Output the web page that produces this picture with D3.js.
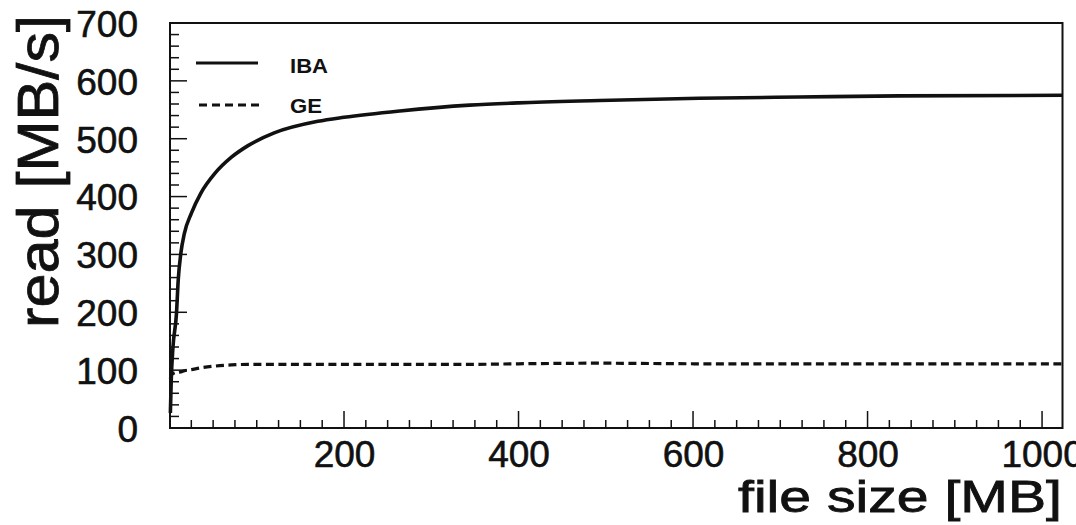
<!DOCTYPE html>
<html>
<head>
<meta charset="utf-8">
<script src="https://cdn.jsdelivr.net/npm/d3@7"></script>
<style>
  html, body { margin: 0; padding: 0; background: #fff; }
  svg { display: block; }
  text { font-family: "Liberation Sans", Arial, sans-serif; fill: #111; }
</style>
</head>
<body>
<svg id="chart" width="1076" height="525"></svg>
<script>
// ---- data ----
const fileSizeMB = [1, 2, 4, 8, 10, 13, 17, 25, 36, 52, 71, 90, 120, 170, 200, 264, 344, 400, 493, 607, 721, 836, 1024];
const ibaRead   = [26, 83, 140, 198, 256, 302, 336, 371, 406, 440, 468, 488, 510, 530, 537, 548, 558, 562, 566, 570, 572, 574, 575];
const geRead    = [85, 92, 94, 96, 96, 97, 99, 101, 104, 107, 109, 110, 110, 110, 110, 110, 110, 111, 112, 111, 111, 111, 111];
const seriesNames = ["IBA", "GE"];
const xTickValues = [200, 400, 600, 800, 1000];
const yTickValues = [0, 100, 200, 300, 400, 500, 600, 700];
const xTitle = "file size [MB]";
const yTitle = "read [MB/s]";

const svg = d3.select("#chart");
const frame = { left: 170, right: 1062.5, top: 23, bottom: 428 };

const x = d3.scaleLinear().domain([0, 1024]).range([169.5, 1063]);
const y = d3.scaleLinear().domain([0, 700]).range([428, 23]);

// ---- minor / major ticks (inside the frame) ----
const tickG = svg.append("g").attr("stroke", "#111").attr("stroke-width", 1.5);
d3.range(0, 1025, 25).forEach(v => {
  if (v === 0) return;
  const major = v % 200 === 0;
  tickG.append("line")
    .attr("x1", x(v)).attr("x2", x(v))
    .attr("y1", frame.bottom).attr("y2", frame.bottom - (major ? 17 : 8));
});
d3.range(0, 701, 20).forEach(v => {
  if (v === 0 || v === 700) return;
  const major = v % 100 === 0;
  tickG.append("line")
    .attr("x1", frame.left).attr("x2", frame.left + (major ? 17 : 9))
    .attr("y1", y(v)).attr("y2", y(v));
});

// ---- frame ----
svg.append("rect")
  .attr("x", frame.left).attr("y", frame.top)
  .attr("width", frame.right - frame.left).attr("height", frame.bottom - frame.top)
  .attr("fill", "none").attr("stroke", "#111").attr("stroke-width", 2);

// ---- tick labels via d3 axes (lines hidden) ----
const xAxis = d3.axisBottom(x).tickValues(xTickValues).tickSize(0).tickPadding(0).tickFormat(d3.format("d"));
const xg = svg.append("g").attr("transform", `translate(0,${frame.bottom})`).call(xAxis);
xg.select(".domain").remove();
xg.selectAll("text").attr("dy", null).attr("y", 39)
  .style("font-family", "Liberation Sans, Arial, sans-serif")
  .style("font-size", "37px").attr("fill", "#111")
  .attr("stroke", "#111").attr("stroke-width", 0.6);

const yAxis = d3.axisLeft(y).tickValues(yTickValues).tickSize(0).tickPadding(0).tickFormat(d3.format("d"));
const yg = svg.append("g").attr("transform", `translate(138,0)`).call(yAxis);
yg.select(".domain").remove();
yg.selectAll("text").attr("dy", "0.36em").attr("x", 0)
  .style("font-family", "Liberation Sans, Arial, sans-serif")
  .style("font-size", "37px").attr("fill", "#111")
  .attr("stroke", "#111").attr("stroke-width", 0.6);

// ---- curves ----
const ibaData = fileSizeMB.map((f, i) => [f, ibaRead[i]]);
const geData = fileSizeMB.map((f, i) => [f, geRead[i]]);
const line = d3.line().x(d => x(d[0])).y(d => y(d[1])).curve(d3.curveMonotoneX);

svg.append("path").datum(geData)
  .attr("d", line).attr("fill", "none")
  .attr("stroke", "#111").attr("stroke-width", 3.2)
  .attr("stroke-dasharray", "8,4.5");

svg.append("path").datum(ibaData)
  .attr("d", line).attr("fill", "none")
  .attr("stroke", "#111").attr("stroke-width", 3.6)
  .attr("stroke-linejoin", "round");

// ---- legend ----
const leg = svg.append("g");
leg.append("line").attr("x1", 196).attr("x2", 258).attr("y1", 63).attr("y2", 63)
  .attr("stroke", "#111").attr("stroke-width", 3);
leg.append("line").attr("x1", 199).attr("x2", 259).attr("y1", 105).attr("y2", 105)
  .attr("stroke", "#111").attr("stroke-width", 3).attr("stroke-dasharray", "8,5");
leg.append("text").attr("x", 290).attr("y", 73)
  .attr("textLength", 38).attr("lengthAdjust", "spacingAndGlyphs")
  .style("font-size", "21px").style("font-weight", "bold").text(seriesNames[0]);
leg.append("text").attr("x", 290).attr("y", 113)
  .attr("textLength", 32).attr("lengthAdjust", "spacingAndGlyphs")
  .style("font-size", "21px").style("font-weight", "bold").text(seriesNames[1]);

// ---- axis titles ----
svg.append("text")
  .attr("x", 738).attr("y", 512)
  .attr("textLength", 324).attr("lengthAdjust", "spacingAndGlyphs")
  .attr("stroke", "#111").attr("stroke-width", 0.8)
  .style("font-size", "44px").text(xTitle);

svg.append("text")
  .attr("transform", "translate(58,328) rotate(-90)")
  .attr("textLength", 313).attr("lengthAdjust", "spacingAndGlyphs")
  .attr("stroke", "#111").attr("stroke-width", 0.8)
  .style("font-size", "58px").text(yTitle);
</script>
</body>
</html>
